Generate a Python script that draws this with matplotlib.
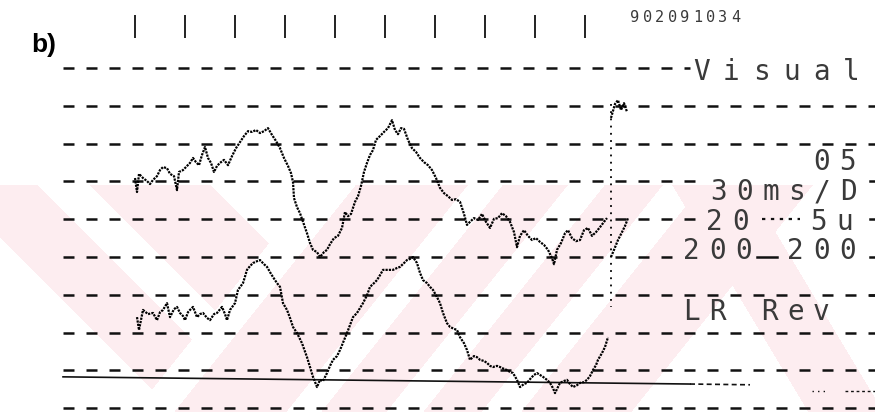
import matplotlib.pyplot as plt
import numpy as np

# time in ms (30 ms per division), amplitude in grid divisions counted down from the top line
upper_t = [0.0, 1.2, 2.4, 4.8, 7.2, 9.0, 10.8, 13.2, 15.0, 16.8, 19.2, 21.0, 23.4, 25.2, 26.4,
           28.8, 31.2, 33.0, 34.8, 36.6, 38.4, 40.2, 42.0, 43.8, 45.6, 47.4, 49.2, 51.0, 53.4,
           55.8, 58.2, 60.6, 63.0, 65.4, 67.8, 70.2, 72.6, 75.0, 77.4, 79.8, 82.2, 84.6, 87.0,
           89.4, 91.8, 93.6, 94.8, 95.4, 97.2, 99.0, 100.8, 103.2, 105.0, 106.8, 109.2, 111.0,
           113.4, 115.2, 117.0, 119.4, 121.8, 124.2, 126.0, 127.8, 129.6, 132.0, 133.8, 135.6,
           137.4, 139.2, 141.0, 142.8, 144.6, 147.0, 149.4, 151.8, 154.2, 156.0, 157.8, 159.6,
           161.4, 163.8, 166.2, 168.6, 171.0, 173.4, 175.8, 178.2, 180.6, 183.0, 185.4, 187.8,
           190.2, 192.6, 195.0, 197.4, 199.2, 201.0, 203.4, 205.8, 208.2, 210.6, 213.0, 215.4,
           217.8, 220.2, 222.6, 225.0, 227.4, 229.2, 231.0, 233.4, 235.8, 238.2, 240.6, 243.0,
           245.4, 247.8, 250.2, 251.4, 253.2, 255.6, 258.0, 259.8, 262.2, 264.6, 267.0, 269.4,
           271.8, 274.2, 276.6, 279.0, 281.4, 283.2]
upper_r = [2.91, 3.28, 2.80, 2.91, 2.99, 3.07, 2.96, 2.86, 2.70, 2.62, 2.65, 2.80, 2.86, 3.23, 2.75,
           2.70, 2.59, 2.51, 2.38, 2.49, 2.57, 2.30, 2.09, 2.38, 2.51, 2.75, 2.59, 2.51, 2.43,
           2.57, 2.33, 2.12, 1.96, 1.80, 1.67, 1.69, 1.64, 1.72, 1.67, 1.59, 1.77, 1.93, 2.12,
           2.38, 2.59, 2.78, 3.02, 3.44, 3.68, 3.84, 4.07, 4.37, 4.63, 4.81, 4.87, 5.00,
           4.87, 4.81, 4.66, 4.50, 4.44, 4.23, 3.81, 3.92, 3.86, 3.54, 3.39, 3.12,
           2.75, 2.51, 2.30, 2.17, 1.90, 1.80, 1.69, 1.59, 1.38, 1.64, 1.75, 1.59,
           1.61, 1.90, 2.12, 2.22, 2.38, 2.49, 2.57, 2.70, 2.91, 3.17, 3.31, 3.39,
           3.49, 3.47, 3.54, 3.86, 4.15, 4.07, 3.97, 4.02, 3.86, 4.07, 4.23, 3.99,
           3.97, 3.84, 3.92, 4.07, 4.34, 4.74, 4.44, 4.29, 4.44, 4.55, 4.50, 4.60,
           4.68, 4.81, 5.03, 5.19, 4.81, 4.63, 4.37, 4.29, 4.50, 4.58, 4.55, 4.29,
           4.23, 4.44, 4.34, 4.21, 4.07, 3.97]

lower_t = [1.2, 2.4, 4.8, 7.8, 10.8, 13.2, 15.0, 16.8, 19.2, 21.0, 23.4, 25.2, 27.0, 28.8, 30.0,
           31.8, 33.0, 34.8, 37.2, 39.0, 40.8, 43.2, 45.0, 47.4, 49.2, 52.2, 54.0, 55.2, 57.0,
           60.0, 61.8, 64.8, 67.2, 69.0, 70.8, 73.2, 75.0, 77.4, 79.2, 81.0, 82.8, 85.2, 87.0,
           88.8, 91.2, 93.0, 94.8, 97.2, 100.2, 103.2, 105.0, 106.8, 109.2, 111.0, 112.8, 115.2,
           117.0, 118.8, 121.2, 123.0, 125.4, 127.2, 129.0, 130.8, 133.2, 135.0, 136.8, 139.2,
           141.0, 143.4, 145.2, 147.0, 148.8, 151.8, 154.8, 157.2, 159.0, 161.4, 163.2, 165.0,
           166.8, 169.2, 171.0, 172.8, 175.2, 177.0, 178.8, 181.2, 183.0, 184.8, 187.2, 189.0,
           191.4, 193.2, 195.0, 197.4, 199.2, 201.0, 203.4, 205.2, 207.0, 209.4, 211.2, 213.0,
           214.8, 217.2, 219.0, 221.4, 223.2, 225.0, 226.8, 229.2, 231.0, 233.4, 235.2, 237.6,
           239.4, 241.2, 243.0, 244.8, 247.2, 249.0, 250.8, 252.0, 253.2, 255.0, 257.4, 259.2,
           261.0, 262.8, 265.2, 267.0, 269.4, 271.2, 273.0, 274.8, 276.6, 277.8, 280.2, 282.0,
           283.8]
lower_r = [6.59, 6.93, 6.40, 6.51, 6.48, 6.67, 6.46, 6.40, 6.22, 6.59, 6.38, 6.32, 6.48, 6.56, 6.67,
           6.46, 6.40, 6.32, 6.59, 6.51, 6.48, 6.61, 6.67, 6.51, 6.48, 6.32, 6.51, 6.67, 6.40,
           6.22, 5.87, 5.69, 5.34, 5.24, 5.16, 5.11, 5.08, 5.19, 5.26, 5.40, 5.53, 5.69, 5.79,
           6.22, 6.40, 6.61, 6.85, 7.01, 7.28, 7.65, 7.91, 8.17, 8.44, 8.25, 8.28, 8.07,
           7.88, 7.72, 7.62, 7.46, 7.20, 7.01, 6.80, 6.59, 6.48, 6.35, 6.22, 6.01,
           5.79, 5.69, 5.61, 5.48, 5.34, 5.34, 5.34, 5.29, 5.26, 5.16, 5.08, 5.05,
           5.00, 5.16, 5.42, 5.61, 5.69, 5.79, 5.87, 6.06, 6.22, 6.48, 6.75, 6.85,
           6.90, 6.93, 7.12, 7.28, 7.46, 7.72, 7.62, 7.65, 7.72, 7.75, 7.80, 7.88,
           7.91, 7.88, 7.91, 7.96, 7.99, 8.04, 8.07, 8.25, 8.44, 8.36, 8.33, 8.20,
           8.12, 8.07, 8.12, 8.17, 8.25, 8.33, 8.47, 8.60, 8.49, 8.33, 8.28, 8.25,
           8.36, 8.44, 8.39, 8.33, 8.31, 8.25, 8.15, 7.99, 7.86, 7.72, 7.54, 7.38,
           7.12]

# fast excursion at the end of the record
blink_t = [285.6, 288.0, 289.8, 291.6, 293.4, 295.2]
blink_r = [1.32, 0.95, 0.85, 1.11, 0.93, 1.16]
marker_t = 285.6
marker_r = (0.95, 6.32)
tail_t = [285.6, 287.4, 289.8, 292.2, 294.0, 295.8]
tail_r = [5.00, 4.81, 4.55, 4.34, 4.18, 3.97]

# reference (zero) line
base_t = [-43.2, 333.0]
base_r = [8.17, 8.36]

tick_times = [0, 30, 60, 90, 120, 150, 180, 210, 240, 270]
grid_rows = list(range(10))

record_id = "902091034"
settings = [("Visual", 334.8, 0.11, 18.0),
            ("05", 406.8, 2.49, 15.6),
            ("30ms/D", 345.0, 3.28, 15.6),
            ("20  5u", 342.6, 4.07, 15.6),
            ("200 200", 328.8, 4.84, 15.6),
            ("LR Rev", 328.8, 6.46, 15.6)]

# where each grid line stops before the printed settings
row_end = [333.0, 444.0, 444.0, 343.2, 341.4, 327.0, 444.0, 444.0, 444.0, 444.0]

fig = plt.figure(figsize=(8.75, 4.12), dpi=100)

# faint striped stamp in the lower part of the page
bg = fig.add_axes([0, 0, 1, 1])
bg.set_axis_off()
H, W = 412, 875
Y, X = np.mgrid[0:H, 0:W].astype(float)
c = X - Y
d = X + 0.8 * Y
e = X - 0.6 * Y
stripes = (((c >= -237) & (c <= -148) & (d < 463)) |
           ((c >= -95) & (c <= 25) & (d < 463)) |
           ((d >= 503) & (d <= 615)) | ((d >= 650) & (d <= 715)) |
           ((d >= 752) & (d <= 810)) | ((d >= 850) & (d <= 960)) |
           ((e >= 561) & (e <= 636)))
pink = stripes & (Y >= 185)
img = np.ones((H, W, 3))
img[pink] = np.array([253, 237, 240]) / 255
bg.imshow(img, extent=(0, W, H, 0), aspect='auto', interpolation='bilinear')
bg.set_xlim(0, W)
bg.set_ylim(H, 0)

ax = fig.add_axes([0, 0, 1, 1])
ax.set_axis_off()
ax.patch.set_alpha(0)
ax.set_xlim(-81.0, 444.0)
ax.set_ylim(9.10, -1.80)

ink = '#111111'
for row, end in zip(grid_rows, row_end):
    ax.plot([-43.2, end], [row, row], color=ink, lw=1.8, ls=(0, (4.4, 4.8)),
            solid_capstyle='butt')
# short dashes between the settings words
ax.plot([376, 399], [4, 4], color=ink, lw=1.6, ls=(0, (1.5, 2.5)))
ax.plot([373, 385], [5, 5], color=ink, lw=1.8)
for row in (3, 4, 5, 6):
    ax.plot([441, 444], [row, row], color=ink, lw=1.8)

ax.vlines(tick_times, -1.40, -0.79, color=ink, lw=1.3)

ax.plot(base_t, base_r, color=ink, lw=1.2)
ax.plot([333.0, 369.0], [8.36, 8.38], color=ink, lw=1.2, ls=(0, (3, 2)))
ax.plot([406.0, 416.0], [8.54, 8.54], color=ink, lw=1.0, ls=(0, (1, 3)))
ax.plot([426.0, 444.0], [8.54, 8.54], color=ink, lw=1.0, ls=(0, (2, 2)))

trace = dict(color='black', lw=1.6, ls=(0, (1.0, 0.5)))
ax.plot(upper_t, upper_r, **trace)
ax.plot(lower_t, lower_r, **trace)
ax.plot(blink_t, blink_r, **trace)
ax.plot(tail_t, tail_r, **trace)
ax.plot([marker_t, marker_t], marker_r, color='black', lw=1.3, ls=(0, (1, 3)))

ax.text(-62.0, -0.62, "b)", fontsize=19, fontweight='bold', family='Liberation Sans',
        ha='left', va='center', color='black')

mono = dict(family='DejaVu Sans Mono', color='#3a3a3a', ha='left', va='center')
for i, ch in enumerate(record_id):
    ax.text(297.0 + i * 7.56, -1.35, ch, fontsize=11, **mono)
for label, t0, r0, pitch in settings:
    for i, ch in enumerate(label):
        if ch != ' ':
            ax.text(t0 + i * pitch, r0, ch, fontsize=20, **mono)

fig.savefig('out.png', dpi=100)
